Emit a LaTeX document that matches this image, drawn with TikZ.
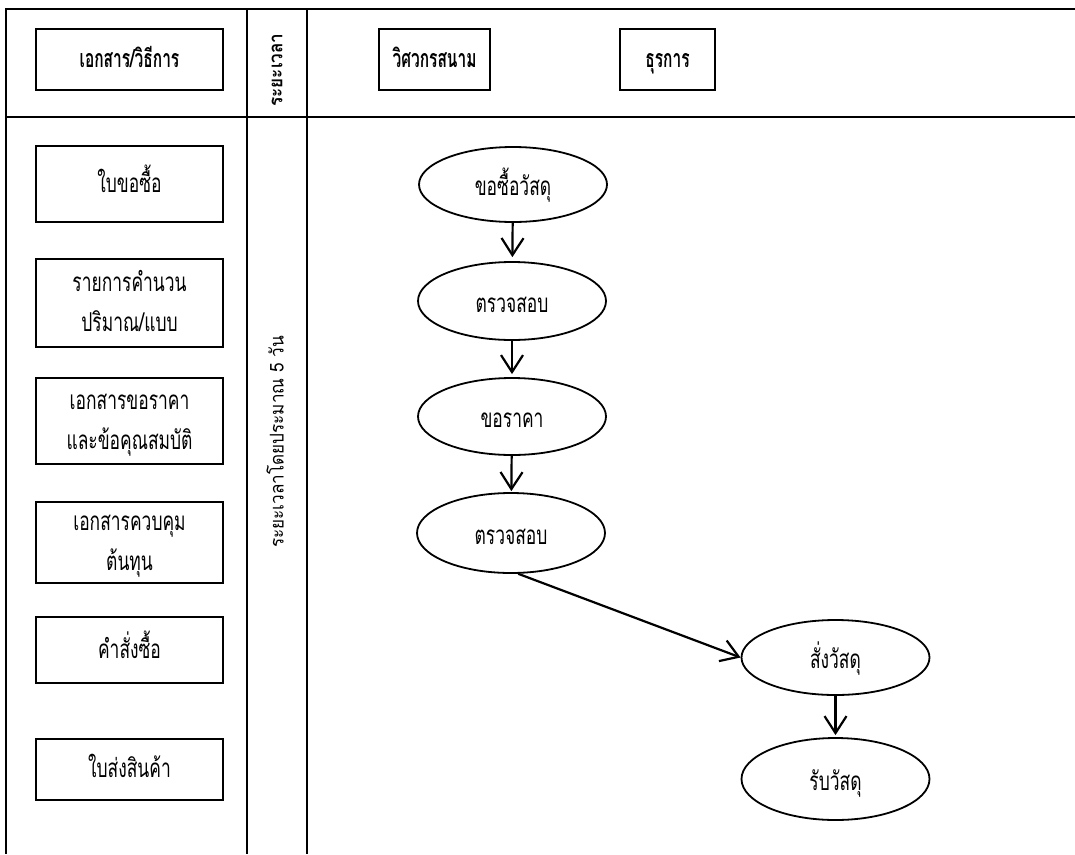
\documentclass[tikz,border=0pt]{standalone}
\usepackage{fontspec}
\newfontfamily\thaifont[Script=Thai,FakeStretch=0.67]{Loma}
\newfontfamily\thaihead[Script=Thai,FakeStretch=0.62]{Loma}
\newfontfamily\thaiside[Script=Thai,FakeStretch=0.9]{Loma}
\usetikzlibrary{arrows.meta,shapes.geometric}

\tikzset{
  grid/.style={line width=1.6pt},
  headbox/.style={draw, line width=1.8pt, minimum height=61pt, inner sep=0pt,
    text height=18pt, text depth=2pt,
    font=\thaihead\bfseries\fontsize{25}{30}\selectfont},
  docbox/.style={draw, line width=1.8pt, minimum width=187pt, inner sep=0pt,
    text height=18pt, text depth=2pt,
    align=center, font=\thaifont\fontsize{26}{40}\selectfont},
  twoline/.style={text height=58pt},
  stepoval/.style={draw, ellipse, line width=1.8pt, inner sep=0pt,
    text height=24pt, text depth=2pt,
    minimum width=188pt, font=\thaifont\fontsize{26}{30}\selectfont},
  flow/.style={line width=2.2pt, -{Straight Barb[length=17pt,width=22pt]}},
  vtext/.style={rotate=90, inner sep=0pt}
}

\begin{document}
\begin{tikzpicture}[x=1pt,y=-1pt]
\useasboundingbox (0,0) rectangle (1075,854);

% table frame
\draw[grid] (1075,9) -- (6,9) -- (6,854);
\draw[grid] (6,117) -- (1075,117);
\draw[grid] (247,9) -- (247,854);
\draw[grid] (307,9) -- (307,854);

% column headings
\node[headbox, minimum width=187pt] (hdoc) at (129.5,59.5) {เอกสาร/วิธีการ};
\node[vtext, font=\thaiside\bfseries\fontsize{19}{22}\selectfont] (htime) at (277,70) {ระยะเวลา};
\node[headbox, minimum width=111pt] (heng) at (434.5,59.5) {วิศวกรสนาม};
\node[headbox, minimum width=95pt] (hadm) at (667.5,59.5) {ธุรการ};

% documents column
\node[docbox, minimum height=76pt] (d1) at (129.5,184) {ใบขอซื้อ};
\node[docbox, twoline, minimum height=88pt] (d2) at (129.5,303) {รายการคำนวน\\ปริมาณ/แบบ};
\node[docbox, twoline, minimum height=86pt] (d3) at (129.5,421) {เอกสารขอราคา\\และข้อคุณสมบัติ};
\node[docbox, twoline, minimum height=81pt] (d4) at (129.5,542.5) {เอกสารควบคุม\\ต้นทุน};
\node[docbox, minimum height=66pt] (d5) at (129.5,650) {คำสั่งซื้อ};
\node[docbox, minimum height=61pt] (d6) at (129.5,769.5) {ใบส่งสินค้า};

% duration
\node[vtext, font=\thaiside\fontsize{19}{22}\selectfont] (dur) at (275,442) {ระยะเวลาโดยประมาณ 5 วัน};

% process steps
\node[stepoval, minimum height=75pt] (s1) at (513,184.5) {ขอซื้อวัสดุ};
\node[stepoval, minimum height=78pt] (s2) at (512,301) {ตรวจสอบ};
\node[stepoval, minimum height=77pt] (s3) at (512,416.5) {ขอราคา};
\node[stepoval, minimum height=80pt] (s4) at (511,533) {ตรวจสอบ};
\node[stepoval, minimum height=75pt] (s5) at (835.5,657.5) {สั่งวัสดุ};
\node[stepoval, minimum height=82pt] (s6) at (835.5,779) {รับวัสดุ};

% flow
\draw[flow, shorten >=4pt] (s1) -- (s2);
\draw[flow, shorten >=3pt] (s2) -- (s3);
\draw[flow, shorten >=1pt] (s3) -- (s4);
\draw[flow] (s4.-80) -- (s5.west);
\draw[flow, shorten >=2pt] (s5) -- (s6);
\end{tikzpicture}
\end{document}
